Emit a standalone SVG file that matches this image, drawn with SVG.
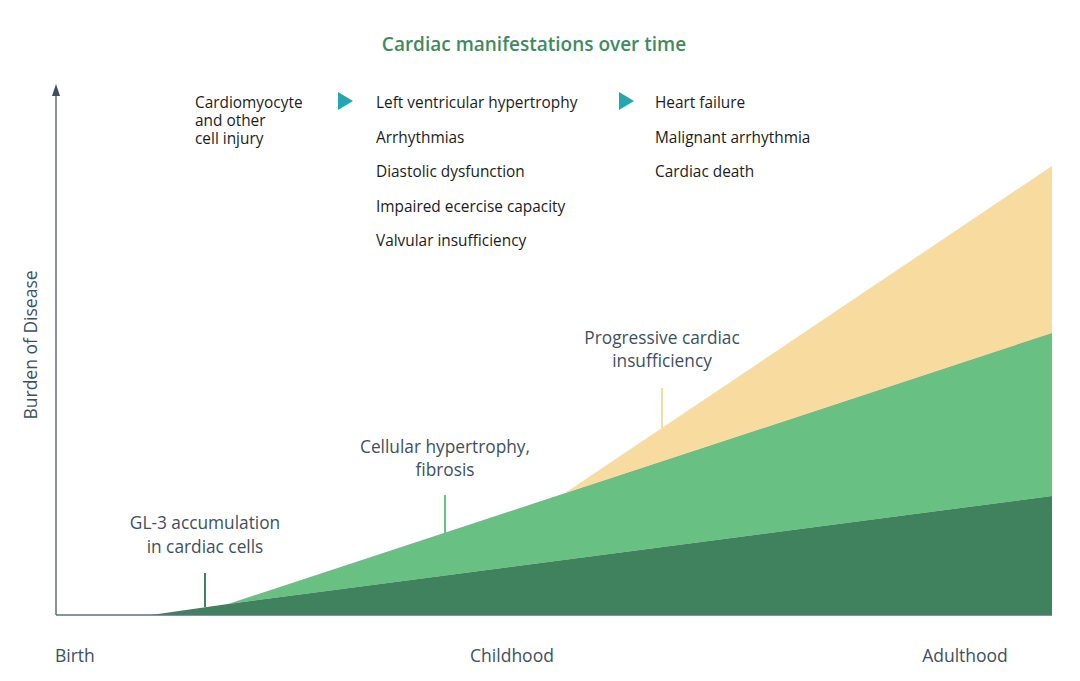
<svg xmlns="http://www.w3.org/2000/svg" width="1080" height="681" viewBox="0 0 1080 681">
<style>
text{font-family:"Open Sans","Noto Sans",sans-serif}
.title{font-size:19px;font-weight:600;fill:#3f8a5f}
.item{font-size:15.4px;fill:#1c1c1c}
.lbl{font-size:17.3px;fill:#3d5060}
.ax{font-size:17.5px;fill:#3d5060}
.axis{stroke:#5d6f7d;stroke-width:1.5;fill:none}
.tri{fill:#22a7b0}
</style>
<rect width="1080" height="681" fill="#ffffff"/>
<g id="areas">
<polygon points="565,493 1052,166 1052,333" fill="#f8dc9f"/>
<polygon points="228,604 1052,333 1052,496" fill="#68c083"/>
<polygon points="151,615 228,604 1052,496 1052,615" fill="#40825e"/>
</g>
<g id="axes">
<line class="axis" x1="56" y1="615" x2="1052" y2="615"/>
<line class="axis" x1="56" y1="615" x2="56" y2="90"/>
<path d="M52,96 L56,84 L60,96 Z" fill="#3d5060"/>
</g>
<g id="connectors">
<line x1="205" y1="573" x2="205" y2="607" stroke="#40825e" stroke-width="2"/>
<line x1="445" y1="495" x2="445" y2="534" stroke="#68c083" stroke-width="2"/>
<line x1="662" y1="388" x2="662" y2="428" stroke="#f8dc9f" stroke-width="2"/>
</g>
<g id="title"><text class="title" x="534" y="51" text-anchor="middle">Cardiac manifestations over time</text></g>
<g id="stage1">
<text class="item" x="195" y="108">Cardiomyocyte</text>
<text class="item" x="195" y="126">and other</text>
<text class="item" x="195" y="144">cell injury</text>
</g>
<g id="arrow1"><polygon class="tri" points="338,92 353,101 338,110"/></g>
<g id="stage2">
<text class="item" x="376" y="108">Left ventricular hypertrophy</text>
<text class="item" x="376" y="143">Arrhythmias</text>
<text class="item" x="376" y="177">Diastolic dysfunction</text>
<text class="item" x="376" y="212">Impaired ecercise capacity</text>
<text class="item" x="376" y="246">Valvular insufficiency</text>
</g>
<g id="arrow2"><polygon class="tri" points="619,92 634,101 619,110"/></g>
<g id="stage3">
<text class="item" x="655" y="108">Heart failure</text>
<text class="item" x="655" y="143">Malignant arrhythmia</text>
<text class="item" x="655" y="177">Cardiac death</text>
</g>
<g id="label-gl3">
<text class="lbl" x="205" y="529" text-anchor="middle">GL-3 accumulation</text>
<text class="lbl" x="205" y="553" text-anchor="middle">in cardiac cells</text>
</g>
<g id="label-cell">
<text class="lbl" x="445" y="453" text-anchor="middle">Cellular hypertrophy,</text>
<text class="lbl" x="445" y="476" text-anchor="middle">fibrosis</text>
</g>
<g id="label-prog">
<text class="lbl" x="662" y="344" text-anchor="middle">Progressive cardiac</text>
<text class="lbl" x="662" y="367" text-anchor="middle">insufficiency</text>
</g>
<g id="xlabels">
<text class="ax" x="55" y="662">Birth</text>
<text class="ax" x="512" y="662" text-anchor="middle">Childhood</text>
<text class="ax" x="965" y="662" text-anchor="middle">Adulthood</text>
</g>
<g id="ylabel"><text class="ax" transform="translate(37,345) rotate(-90)" text-anchor="middle">Burden of Disease</text></g>
</svg>
